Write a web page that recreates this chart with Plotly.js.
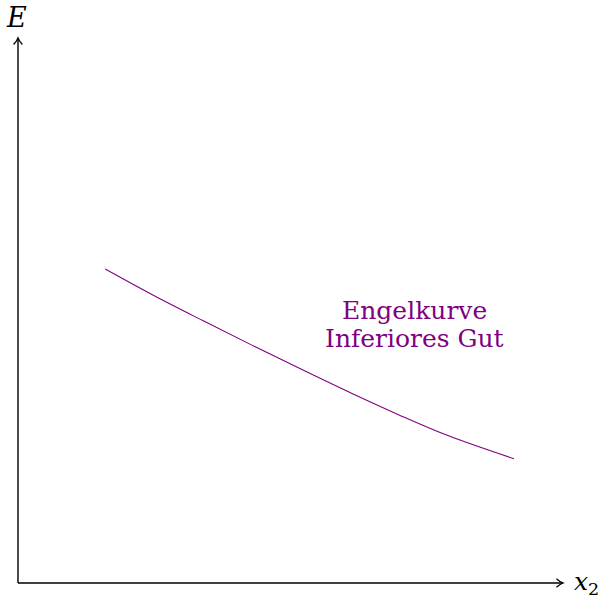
<!DOCTYPE html>
<html>
<head>
<meta charset="utf-8">
<script src="https://cdn.plot.ly/plotly-3.0.1.min.js"></script>
<style>html,body{margin:0;padding:0;background:#fff;}#chart{width:604px;height:600px;}</style>
</head>
<body>
<div id="chart"></div>
<script>
// Engel curve (inferior good): x2 quantity vs income E (arbitrary units, axes length 10)
const curveX2 = [1.6, 2.5, 3.4, 4.3, 5.2, 6.1, 7.0, 7.9, 9.1];
const curveE  = [5.76, 5.27, 4.81, 4.36, 3.92, 3.49, 3.08, 2.70, 2.28];
const curveLabel = ["Engelkurve", "Inferiores Gut"];
const axisLabels = {x: "<i>x</i><sub>2</sub>", y: "<i>E</i>"};
const axisLen = 10;

const purple = "#800080";
const serif = "'DejaVu Serif', serif";

const trace = {
  x: curveX2, y: curveE, mode: "lines", type: "scatter",
  line: {color: purple, width: 1.1, shape: "spline", smoothing: 1},
  hoverinfo: "skip"
};

const ah = 0.12, aw = 0.08;
const shapes = [
  {type: "line", xref: "x", yref: "y", x0: 0, y0: 0, x1: axisLen, y1: 0, line: {color: "#000", width: 1.4}},
  {type: "line", xref: "x", yref: "y", x0: 0, y0: 0, x1: 0, y1: axisLen, line: {color: "#000", width: 1.4}},
  {type: "path", xref: "x", yref: "y",
   path: `M ${axisLen-ah} ${aw} Q ${axisLen-ah*0.4} ${aw*0.2} ${axisLen} 0 Q ${axisLen-ah*0.4} ${-aw*0.2} ${axisLen-ah} ${-aw}`,
   line: {color: "#000", width: 1.3}},
  {type: "path", xref: "x", yref: "y",
   path: `M ${-aw} ${axisLen-ah} Q ${-aw*0.2} ${axisLen-ah*0.4} 0 ${axisLen} Q ${aw*0.2} ${axisLen-ah*0.4} ${aw} ${axisLen-ah}`,
   line: {color: "#000", width: 1.3}}
];

const annotations = [
  {x: 7.27, y: 5.0, xref: "x", yref: "y", text: curveLabel[0], showarrow: false,
   xanchor: "center", yanchor: "middle", font: {family: serif, size: 25, color: purple}},
  {x: 7.27, y: 4.48, xref: "x", yref: "y", text: curveLabel[1], showarrow: false,
   xanchor: "center", yanchor: "middle", font: {family: serif, size: 25, color: purple}},
  {x: -0.02, y: 10.37, xref: "x", yref: "y", text: axisLabels.y, showarrow: false,
   xanchor: "center", yanchor: "middle", font: {family: serif, size: 27, color: "#000"}},
  {x: 10.17, y: 0.0, xref: "x", yref: "y", text: axisLabels.x, showarrow: false,
   xanchor: "left", yanchor: "middle", font: {family: serif, size: 25, color: "#000"}}
];

const layout = {
  width: 604, height: 600,
  margin: {l: 0, r: 0, t: 0, b: 0},
  paper_bgcolor: "#fff", plot_bgcolor: "#fff",
  showlegend: false,
  xaxis: {range: [-18/54.5, 586/54.5], visible: false, fixedrange: true},
  yaxis: {range: [-17/54.5, 583/54.5], visible: false, fixedrange: true},
  shapes: shapes,
  annotations: annotations
};

Plotly.newPlot("chart", [trace], layout, {displayModeBar: false, staticPlot: true});
</script>
</body>
</html>
